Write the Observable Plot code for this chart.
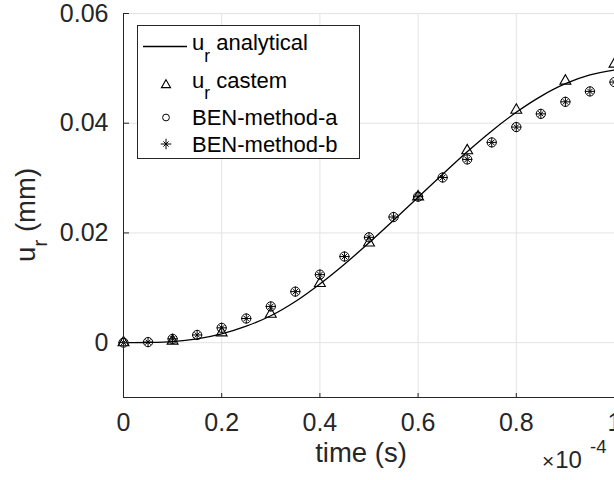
<!DOCTYPE html>
<html>
<head>
<meta charset="utf-8">
<script src="https://cdn.jsdelivr.net/npm/d3@7"></script>
<script src="https://cdn.jsdelivr.net/npm/@observablehq/plot@0.6"></script>
<style>
html, body { margin: 0; padding: 0; background: #fff; overflow: hidden; }
#wrap { position: relative; width: 614px; height: 480px; }
#wrap svg.overlay { position: absolute; left: 0; top: 0; pointer-events: none; overflow: visible; }
</style>
</head>
<body>
<div id="wrap"></div>
<script>
// time in units of 1e-4 s
const timeFine = [0, 0.05, 0.1, 0.15, 0.2, 0.25, 0.3, 0.35, 0.4, 0.45, 0.5, 0.55, 0.6, 0.65, 0.7, 0.75, 0.8, 0.85, 0.9, 0.95, 1.0];
const analytical = [0, 0.00003, 0.0002, 0.0007, 0.0016, 0.003, 0.0049, 0.0075, 0.0107, 0.0143, 0.0182, 0.0223, 0.0265, 0.0307, 0.0348, 0.0386, 0.042, 0.0449, 0.0472, 0.0488, 0.0497];
const timeCastem = [0, 0.1, 0.2, 0.3, 0.4, 0.5, 0.6, 0.7, 0.8, 0.9, 1.0];
const castem = [0, 0.0003, 0.0018, 0.0052, 0.0108, 0.0182, 0.0266, 0.035, 0.0424, 0.0477, 0.0508];
const benA = [0, 0.0001, 0.0007, 0.0014, 0.0027, 0.0044, 0.0066, 0.0093, 0.0124, 0.0157, 0.0192, 0.0229, 0.0266, 0.0301, 0.0334, 0.0365, 0.0393, 0.0417, 0.0439, 0.0458, 0.0475];
const benB = [0, 0.0001, 0.0007, 0.0014, 0.0027, 0.0044, 0.0066, 0.0093, 0.0124, 0.0157, 0.0192, 0.0229, 0.0266, 0.0301, 0.0334, 0.0365, 0.0393, 0.0417, 0.0439, 0.0458, 0.0475];
const xTicks = [0, 0.2, 0.4, 0.6, 0.8, 1];
const xTickLabels = ["0", "0.2", "0.4", "0.6", "0.8", "1"];
const yTicks = [0, 0.02, 0.04, 0.06];
const yTickLabels = ["0", "0.02", "0.04", "0.06"];
const seriesNames = ["analytical", "castem", "BEN-method-a", "BEN-method-b"];

const FONT = "'Liberation Sans', Arial, Helvetica, sans-serif";
const AX = "#262626";
const GRID = "#e3e3e3";

const lineData = timeFine.map((t, i) => ({t, v: analytical[i]}));
const castemData = timeCastem.map((t, i) => ({t, v: castem[i]}));
const benAData = timeFine.map((t, i) => ({t, v: benA[i]}));
const benBData = timeFine.map((t, i) => ({t, v: benB[i]}));

const chart = Plot.plot({
  width: 614,
  height: 480,
  marginTop: 13,
  marginRight: 0,
  marginBottom: 83,
  marginLeft: 123,
  style: {fontFamily: FONT, color: AX, background: "white", overflow: "visible"},
  x: {domain: [0, 1], label: null},
  y: {domain: [-0.01, 0.06], label: null},
  marks: [
    Plot.gridX(xTicks.slice(1), {stroke: GRID, strokeOpacity: 1}),
    Plot.gridY(yTicks, {stroke: GRID, strokeOpacity: 1}),
    Plot.line(lineData, {x: "t", y: "v", curve: "catmull-rom", stroke: "black", strokeWidth: 1.3}),
    Plot.dot(castemData, {x: "t", y: "v", symbol: "triangle2", r: 5.2, stroke: "black", fill: "none", strokeWidth: 1.1}),
    Plot.dot(benAData, {x: "t", y: "v", symbol: "circle", r: 4.6, stroke: "black", fill: "none", strokeWidth: 1}),
    Plot.dot(benBData, {x: "t", y: "v", symbol: "plus", r: 3.4, stroke: "black", fill: "none", strokeWidth: 1}),
    Plot.dot(benBData, {x: "t", y: "v", symbol: "times", r: 2.5, stroke: "black", fill: "none", strokeWidth: 1}),
    Plot.ruleX([0], {stroke: AX}),
    Plot.ruleY([-0.01], {stroke: AX}),
    Plot.axisX(xTicks, {anchor: "top", frameAnchor: "bottom", tickSize: 5, stroke: AX, fill: "none", label: null}),
    Plot.axisY(yTicks, {anchor: "right", frameAnchor: "left", tickSize: 5, stroke: AX, fill: "none", label: null}),
    Plot.axisX(xTicks, {anchor: "bottom", tickSize: 0, tickPadding: 16, fontSize: 25, fill: AX, label: null,
      tickFormat: d => xTickLabels[xTicks.indexOf(d)]}),
    Plot.axisY(yTicks, {anchor: "left", tickSize: 0, tickPadding: 15, fontSize: 25, fill: AX, label: null,
      tickFormat: d => yTickLabels[yTicks.indexOf(d)]})
  ]
});

const wrap = document.getElementById("wrap");
wrap.appendChild(chart);

// overlay: axis titles, exponent, legend
const ov = d3.select(wrap).append("svg")
  .attr("class", "overlay")
  .attr("width", 614).attr("height", 480)
  .style("font-family", FONT);

// x label
ov.append("text").attr("x", 361).attr("y", 462).attr("text-anchor", "middle")
  .attr("font-size", 27.5).attr("fill", AX).text("time (s)");

// y label
const yl = ov.append("text").attr("transform", "translate(35,262) rotate(-90)")
  .attr("font-size", 27.5).attr("fill", AX);
yl.append("tspan").text("u");
yl.append("tspan").attr("dy", 11.7).attr("font-size", 21).text("r");
yl.append("tspan").attr("dy", -11.7).text(" (mm)");

// exponent
const ex = ov.append("text").attr("x", 542).attr("y", 468).attr("fill", AX).attr("font-size", 24);
ex.append("tspan").attr("font-size", 21).text("\u00d7");
ex.append("tspan").attr("dx", 1).text("10");
ex.append("tspan").attr("dx", 8).attr("dy", -15).attr("font-size", 18.5).text("-4");

// legend
const lg = ov.append("g");
lg.append("rect").attr("x", 137.5).attr("y", 25.5).attr("width", 222).attr("height", 133)
  .attr("fill", "white").attr("stroke", AX).attr("stroke-width", 1);
const mx = 166, tx = 192;
lg.append("line").attr("x1", 143).attr("x2", 187).attr("y1", 46.5).attr("y2", 46.5)
  .attr("stroke", "black").attr("stroke-width", 1.3);
lg.append("path").attr("transform", `translate(${mx},85)`)
  .attr("d", d3.symbol(d3.symbolTriangle2, 60)())
  .attr("fill", "none").attr("stroke", "black").attr("stroke-width", 1.1);
lg.append("circle").attr("cx", mx).attr("cy", 117.5).attr("r", 3.4)
  .attr("fill", "none").attr("stroke", "black");
lg.append("path").attr("transform", `translate(${mx},144)`)
  .attr("d", d3.symbol(d3.symbolPlus, 38)() + d3.symbol(d3.symbolTimes, 19)())
  .attr("fill", "none").attr("stroke", "black");

function legendText(y, main, sub) {
  const t = lg.append("text").attr("x", tx).attr("y", y).attr("font-size", 22).attr("fill", "black");
  if (sub) {
    t.append("tspan").text("u");
    t.append("tspan").attr("dy", 11.7).attr("font-size", 17.5).text("r");
    t.append("tspan").attr("dy", -11.7).text(" " + main);
  } else {
    t.text(main);
  }
}
legendText(50, seriesNames[0], true);
legendText(87.7, seriesNames[1], true);
legendText(125, seriesNames[2], false);
legendText(151.7, seriesNames[3], false);
</script>
</body>
</html>
